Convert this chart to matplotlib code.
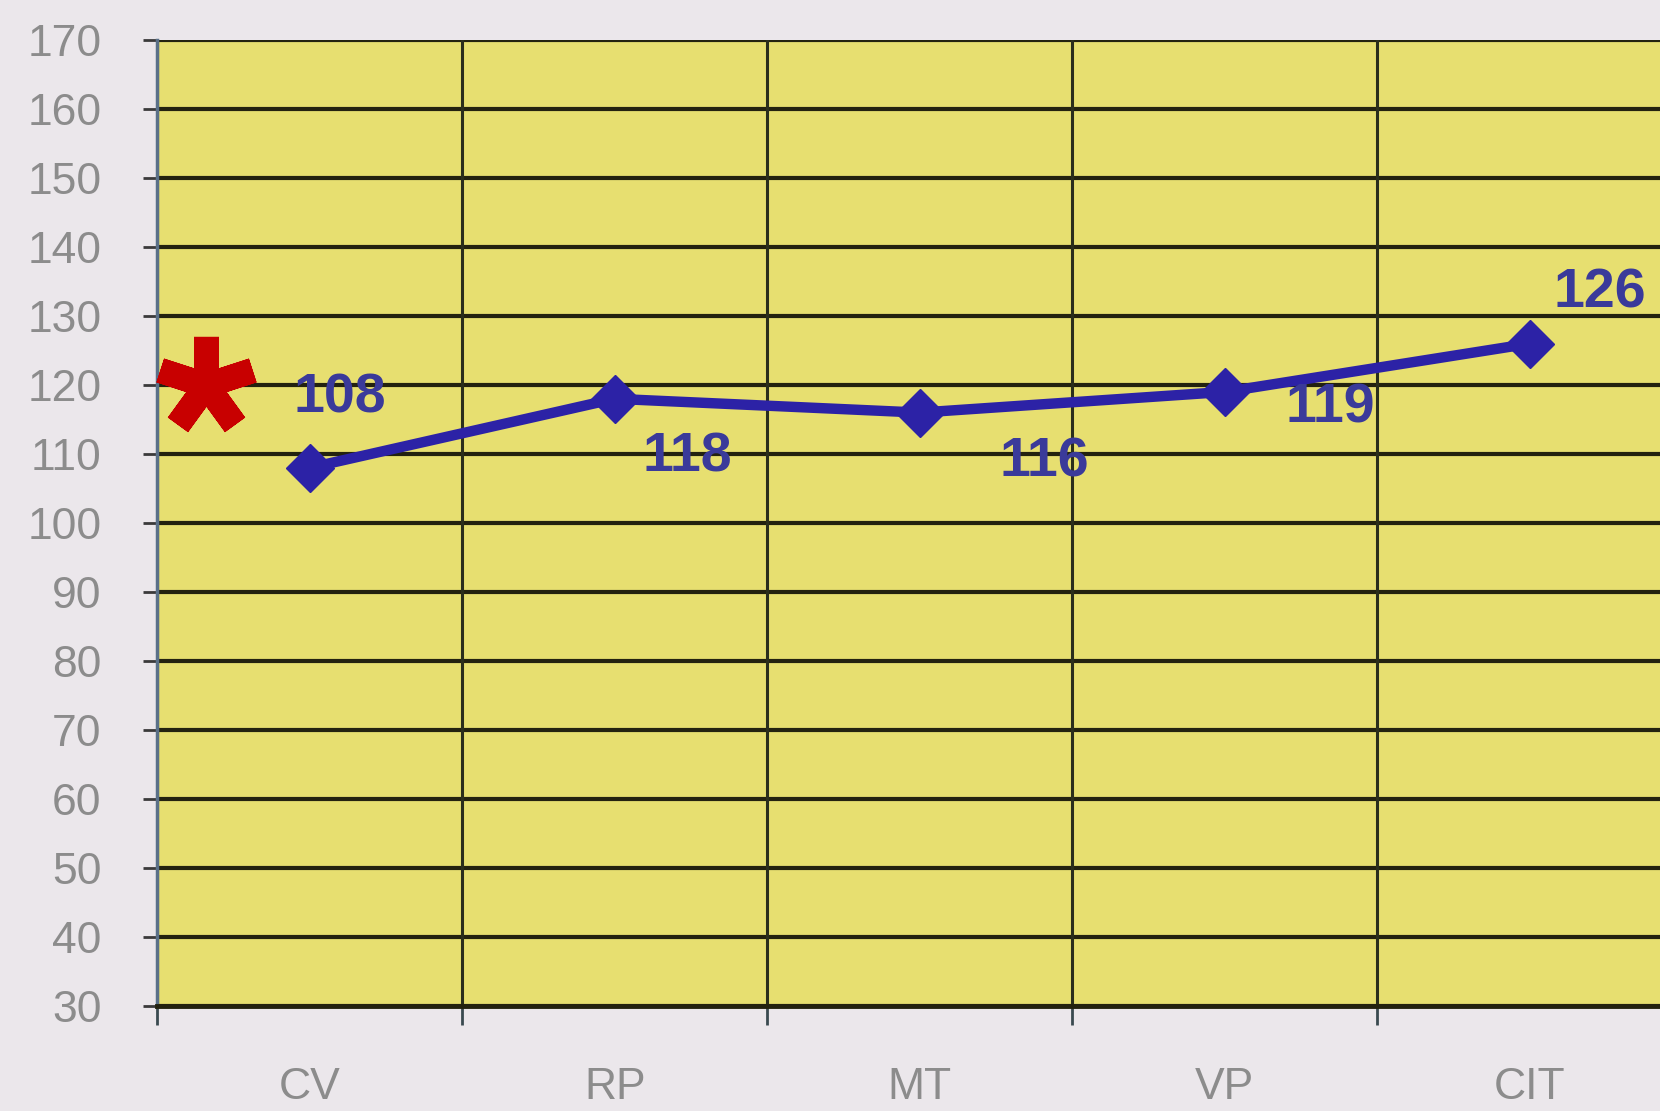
import matplotlib.pyplot as plt
from matplotlib.ticker import FixedLocator

# 데이터
categories = ["CV", "RP", "MT", "VP", "CIT"]
values = [108, 118, 116, 119, 126]
# label offsets (points) per data label
label_dx = [22, 52, 90, 76, 50]
label_dy = [50, -42, -36, -12, 36]

y_ticks = list(range(30, 171, 10))

plt.rcParams['font.family'] = ['Liberation Sans', 'DejaVu Sans']

fig = plt.figure(figsize=(16.6, 11.11), dpi=100)
fig.patch.set_facecolor('#ebe7eb')

ax = fig.add_axes([0.0946, 0.0945, 0.919, 0.8695])
ax.set_facecolor('#e7df70')

x = list(range(len(categories)))

# grid
for yv in y_ticks:
    ax.axhline(yv, color='#23220f', linewidth=3.0, zorder=1)
for b in range(len(categories) + 1):
    ax.axvline(b - 0.5, color='#2a2e1c', linewidth=2.2, zorder=1)

# line + markers
ax.plot(x, values, color='#2c22a6', linewidth=7.5, marker='D', markersize=24,
        markerfacecolor='#2c22a6', markeredgecolor='#2c22a6', zorder=3,
        solid_joinstyle='round')

for i, v in enumerate(values):
    ax.annotate(str(v), (i, v), xytext=(label_dx[i], label_dy[i]),
                textcoords='offset points', ha='center', va='center',
                fontsize=40, color='#3a3a9a', fontweight='bold', zorder=4)

# red asterisk marker
ax.plot([-0.34], [120], marker=(5, 2, 0), markersize=70, markeredgewidth=18,
        color='#c80000', linestyle='none', zorder=5, clip_on=False)

ax.set_xlim(-0.5, len(categories) - 0.5)
ax.set_ylim(30, 170)

ax.yaxis.set_major_locator(FixedLocator(y_ticks))
ax.tick_params(axis='y', labelsize=32, labelcolor='#8c8c8c', length=10,
               width=2, color='#3a3a3a', pad=30)

ax.xaxis.set_major_locator(FixedLocator(x))
ax.set_xticklabels(categories)
ax.xaxis.set_minor_locator(FixedLocator([b - 0.5 for b in range(len(categories) + 1)]))
ax.tick_params(axis='x', which='major', length=0, labelsize=32,
               labelcolor='#8c8c8c', pad=44)
ax.tick_params(axis='x', which='minor', length=14, width=2, color='#3a4a50')

for side in ['top', 'right']:
    ax.spines[side].set_visible(False)
ax.spines['left'].set_color('#5a7088')
ax.spines['left'].set_linewidth(2.5)
ax.spines['bottom'].set_color('#23220f')
ax.spines['bottom'].set_linewidth(3.5)

fig.savefig('out.png', dpi=100, facecolor=fig.get_facecolor())
